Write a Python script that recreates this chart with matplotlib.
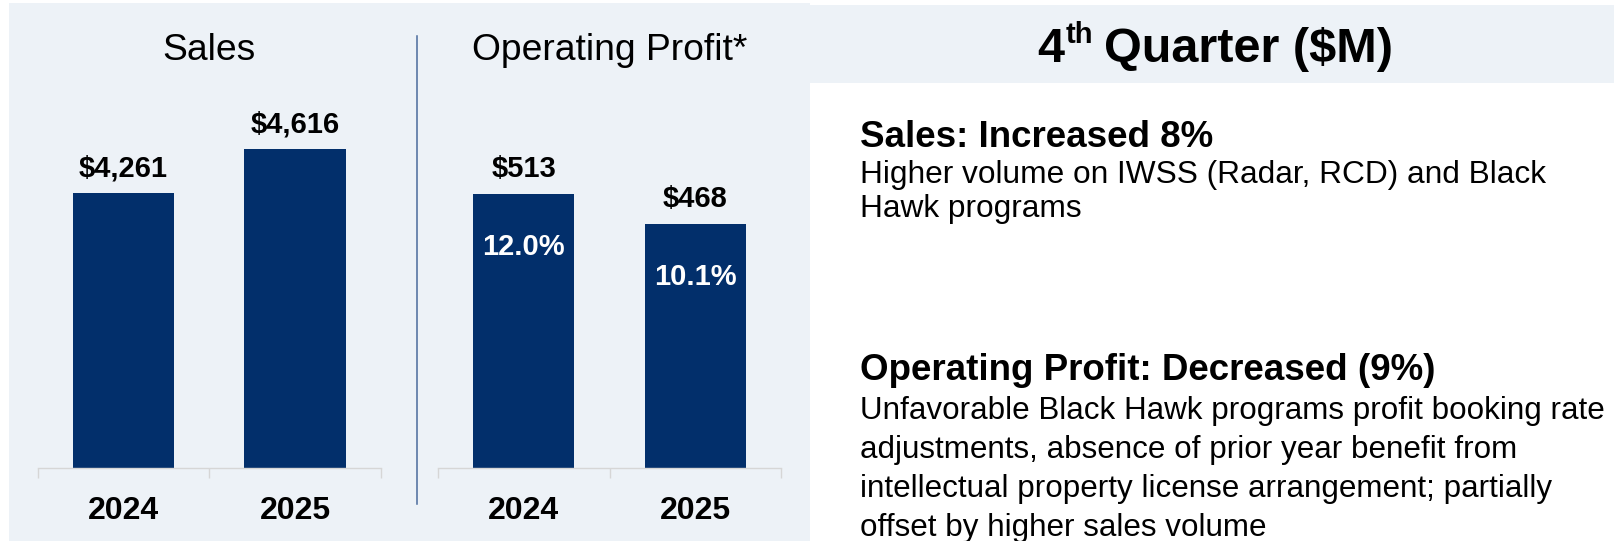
import matplotlib
matplotlib.use("Agg")
import matplotlib.pyplot as plt
from matplotlib.patches import Rectangle
from matplotlib.lines import Line2D

plt.rcParams['font.family'] = ['Liberation Sans', 'DejaVu Sans']

# data
years = ["2024", "2025"]
sales = [4261, 4616]
op_profit = [513, 468]
op_margin = ["12.0%", "10.1%"]

sales_title = "Sales"
op_title = "Operating Profit*"
header = ("4", "th", "Quarter ($M)")
sales_head = "Sales: Increased 8%"
sales_body = ["Higher volume on IWSS (Radar, RCD) and Black", "Hawk programs"]
op_head = "Operating Profit: Decreased (9%)"
op_body = ["Unfavorable Black Hawk programs profit booking rate",
           "adjustments, absence of prior year benefit from",
           "intellectual property license arrangement; partially",
           "offset by higher sales volume"]

W, H = 1614, 541
navy = "#022F6B"
panel = "#EDF2F7"

fig = plt.figure(figsize=(W / 100, H / 100), dpi=100)


def fx(x):
    return x / W


def fy(y):
    return 1 - y / H


# backgrounds
fig.patches.append(Rectangle((fx(9), fy(541)), fx(801), 538 / H, transform=fig.transFigure,
                             facecolor=panel, edgecolor="none", zorder=-5))
fig.patches.append(Rectangle((fx(810), fy(82.7)), fx(804), 77.7 / H, transform=fig.transFigure,
                             facecolor=panel, edgecolor="none", zorder=-5))

# separator
fig.add_artist(Line2D([fx(416.7), fx(416.7)], [fy(35.5), fy(504)], transform=fig.transFigure,
                      color="#4A6B9C", lw=1.1))


def bar_panel(left, values, ylim, title, inner=None):
    ax = fig.add_axes([fx(left), fy(468), fx(343), 368 / H])
    ax.set_facecolor("none")
    x = range(len(values))
    ax.bar(x, values, width=0.59, color=navy, zorder=2)
    ax.set_xlim(-0.5, 1.5)
    ax.set_ylim(*ylim)
    for s in ["top", "right", "left"]:
        ax.spines[s].set_visible(False)
    ax.spines["bottom"].set_color("#D6D6D6")
    ax.spines["bottom"].set_linewidth(1.0)
    ax.set_yticks([])
    ax.set_xticks(list(x))
    ax.set_xticklabels(years, fontsize=23, fontweight="bold")
    ax.tick_params(axis="x", which="major", length=0, pad=20)
    ax.set_xticks([-0.5, 0.5, 1.5], minor=True)
    ax.tick_params(axis="x", which="minor", length=7, width=1.0, color="#D6D6D6")
    for i, v in enumerate(values):
        ax.annotate(f"${v:,}", xy=(i, v), xytext=(0, 12.2), textcoords="offset points",
                    ha="center", va="baseline", fontsize=21, fontweight="bold")
        if inner:
            ax.annotate(inner[i], xy=(i, v), xytext=(0, -44), textcoords="offset points",
                        ha="center", va="baseline", fontsize=21, fontweight="bold",
                        color="white")
    fig.text(fx(left + 171.5), fy(60), title, ha="center", va="baseline", fontsize=26.8)
    return ax


bar_panel(37.7, sales, (2042, 5011), sales_title)
bar_panel(438, op_profit, (102, 654), op_title, op_margin)

# header "4th Quarter ($M)"
t4 = fig.text(0, fy(61.7), header[0], fontsize=35, fontweight="bold", va="baseline")
tth = fig.text(0, fy(43), header[1], fontsize=21, fontweight="bold", va="baseline")
tq = fig.text(0, fy(61.7), header[2], fontsize=35, fontweight="bold", va="baseline")
r = fig.canvas.get_renderer()
w4 = t4.get_window_extent(r).width
wth = tth.get_window_extent(r).width
wq = tq.get_window_extent(r).width
gap = 12
x0 = 1215 - (w4 + wth + gap + wq) / 2
t4.set_x(fx(x0))
tth.set_x(fx(x0 + w4 + 1))
tq.set_x(fx(x0 + w4 + wth + gap))

# commentary
fig.text(fx(860), fy(147.3), sales_head, fontsize=26.5, fontweight="bold", va="baseline")
for line, yb in zip(sales_body, [182.7, 217.3]):
    fig.text(fx(860), fy(yb), line, fontsize=22.8, va="baseline")
fig.text(fx(860), fy(380), op_head, fontsize=26.5, fontweight="bold", va="baseline")
for line, yb in zip(op_body, [419.3, 458.3, 497.3, 536]):
    fig.text(fx(860), fy(yb), line, fontsize=22.6, va="baseline")

fig.savefig("out.png", dpi=100)
